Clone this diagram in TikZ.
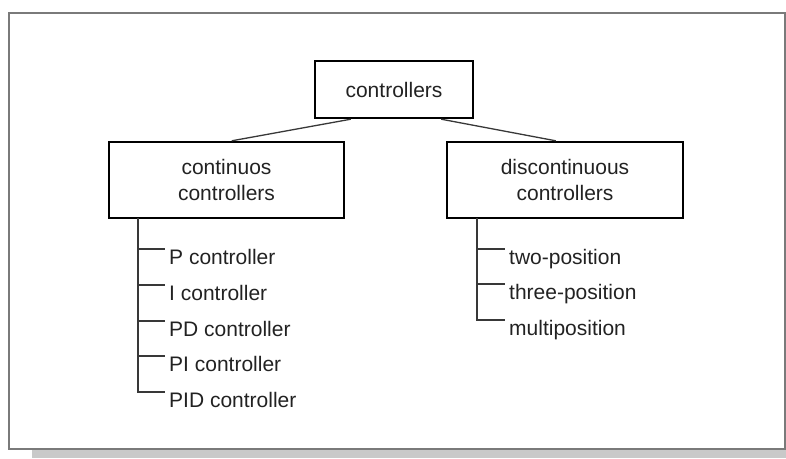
\documentclass[tikz,border=0pt]{standalone}
\usepackage{fontspec}
\setmainfont{Liberation Sans}
\definecolor{framegray}{HTML}{7A7A7A}
\definecolor{shadowgray}{HTML}{C9C9C9}
\definecolor{inkgray}{HTML}{222222}
\begin{document}
\begin{tikzpicture}[x=1pt,y=-1pt,
  every node/.style={font=\fontsize{21}{26}\selectfont, text=inkgray},
  catbox/.style={draw=black, line width=2.4pt, align=center, inner sep=0pt, minimum height=#1},
  leaf/.style={anchor=north west, inner xsep=4pt, inner ysep=0pt, text height=15.3pt, text depth=4pt},
  link/.style={draw=inkgray!90, line width=1.3pt},
  twig/.style={draw=inkgray!90, line width=1.3pt}]
\useasboundingbox (0,0) rectangle (786,458);
% frame and shadow
\fill[shadowgray] (32,450) rectangle (786,458);
\draw[framegray, line width=2pt] (8.5,12.5) rectangle (784.5,449);
% category boxes
\node[catbox=57pt, minimum width=158pt] (top) at (394,89.5) {controllers};
\node[catbox=76pt, minimum width=235pt] (lbox) at (226.5,180) {continuos\\controllers};
\node[catbox=76pt, minimum width=236pt] (rbox) at (565,180) {discontinuous\\controllers};
\draw[link] ([xshift=37pt]top.south west) -- ([xshift=124pt]lbox.north west);
\draw[link] ([xshift=-33pt]top.south east) -- ([xshift=110pt]rbox.north west);
% left leaves
\node[leaf] (p) at (165,249) {P controller};
\node[leaf] (i) at (165,285) {I controller};
\node[leaf] (pd) at (165,321) {PD controller};
\node[leaf] (pi) at (165,356) {PI controller};
\node[leaf] (pid) at (165,392) {PID controller};
\coordinate (lt) at (138,218);
\foreach \n in {p,i,pd,pi,pid} \draw[twig] (lt) |- (\n.north west);
% right leaves
\node[leaf] (two) at (505,249) {two-position};
\node[leaf] (three) at (505,284) {three-position};
\node[leaf] (multi) at (505,320) {multiposition};
\coordinate (rt) at (477,218);
\foreach \n in {two,three,multi} \draw[twig] (rt) |- (\n.north west);
\end{tikzpicture}
\end{document}
